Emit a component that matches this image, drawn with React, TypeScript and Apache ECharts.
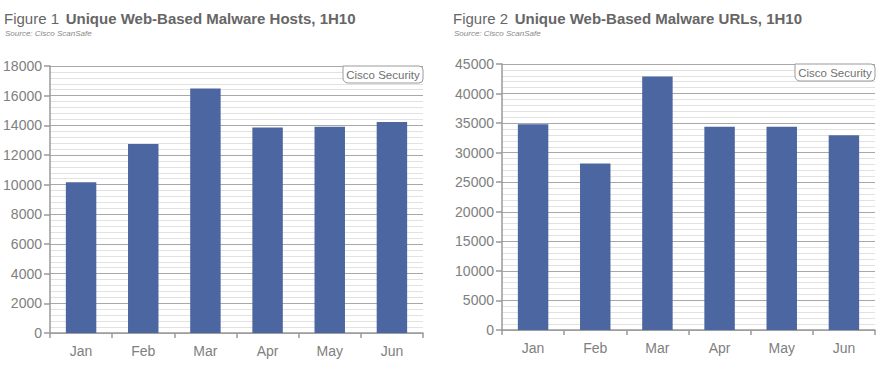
import React, { useEffect, useRef } from "react";
import * as echarts from "echarts";

const months = ["Jan", "Feb", "Mar", "Apr", "May", "Jun"];
const hostsValues = [10170, 12750, 16480, 13850, 13900, 14230];
const urlsValues = [34800, 28150, 42900, 34380, 34380, 32950];

const fig1Label = "Figure 1";
const fig1Title = "Unique Web-Based Malware Hosts, 1H10";
const fig2Label = "Figure 2";
const fig2Title = "Unique Web-Based Malware URLs, 1H10";
const sourceText = "Source: Cisco ScanSafe";
const badgeText = "Cisco Security";

const FONT = "'Liberation Sans', Arial, sans-serif";
const BAR = "#4c66a1";
const AXIS = "#9a9a9a";
const LABEL = "#808080";

export default function App() {
  const ref = useRef<HTMLDivElement>(null);
  useEffect(() => {
    document.body.style.margin = "0";
    const chart = echarts.init(ref.current!, null, { renderer: "svg" });

    const grids = [
      { left: 50, top: 66, width: 373, height: 267 },
      { left: 502, top: 64, width: 373, height: 266 },
    ];

    const mkX = (i: number) => ({
      type: "category",
      gridIndex: i,
      data: months,
      boundaryGap: true,
      axisLine: { show: true, lineStyle: { color: AXIS, width: 1.5 } },
      axisTick: { show: true, length: 5, lineStyle: { color: AXIS, width: 1.5 } },
      axisLabel: { color: LABEL, fontFamily: FONT, fontSize: 14, margin: 11 },
      splitLine: { show: false },
    });
    const mkY = (i: number, max: number, interval: number) => ({
      type: "value",
      gridIndex: i,
      min: 0,
      max,
      interval,
      axisLine: { show: true, lineStyle: { color: AXIS, width: 1.5 } },
      axisTick: { show: true, length: 6, lineStyle: { color: AXIS, width: 1.5 } },
      axisLabel: {
        color: LABEL,
        fontFamily: FONT,
        fontSize: 14,
        margin: 8,
        formatter: (v: number) => String(v),
      },
      splitLine: { show: true, lineStyle: { color: "#a8a8a8", width: 1.2 } },
      minorTick: { show: false, splitNumber: 5 },
      minorSplitLine: { show: true, lineStyle: { color: "#e2e2e2", width: 1 } },
    });

    const badge = (right: number, top: number) => ({
      type: "group",
      children: [
        {
          type: "rect",
          shape: { x: right - 80, y: top, width: 80, height: 17, r: [0, 4, 4, 5] },
          style: { fill: "#ffffff", stroke: "#9a9a9a", lineWidth: 1 },
          z: 100,
        },
        {
          type: "text",
          x: right - 40,
          y: top + 9,
          style: {
            text: badgeText,
            fill: "#707070",
            font: `11.5px ${FONT}`,
            align: "center",
            verticalAlign: "middle",
          },
          z: 101,
        },
      ],
    });

    const title = (x: number, label: string, t: string) => ({
      type: "group",
      children: [
        {
          type: "text",
          x,
          y: 18,
          style: {
            text: `{a|${label}}  {b|${t}}`,
            rich: {
              a: { fontFamily: FONT, fontSize: 15, fill: "#666666", color: "#666666" },
              b: {
                fontFamily: FONT,
                fontSize: 15,
                fontWeight: "bold",
                fill: "#666666",
                color: "#666666",
              },
            },
            fill: "#666666",
            verticalAlign: "middle",
          },
        },
        {
          type: "text",
          x: x + 1,
          y: 33,
          style: {
            text: sourceText,
            fill: "#888888",
            font: `italic 8px ${FONT}`,
            verticalAlign: "middle",
          },
        },
      ],
    });

    chart.setOption({
      animation: false,
      grid: grids,
      xAxis: [mkX(0), mkX(1)],
      yAxis: [mkY(0, 18000, 2000), mkY(1, 45000, 5000)],
      series: [
        {
          type: "bar",
          xAxisIndex: 0,
          yAxisIndex: 0,
          data: hostsValues,
          barWidth: "49%",
          itemStyle: { color: BAR },
        },
        {
          type: "bar",
          xAxisIndex: 1,
          yAxisIndex: 1,
          data: urlsValues,
          barWidth: "49%",
          itemStyle: { color: BAR },
        },
      ],
      graphic: [
        title(4, fig1Label, fig1Title),
        title(453, fig2Label, fig2Title),
        badge(423, 66),
        badge(875, 64),
      ],
    });
    return () => chart.dispose();
  }, []);
  return <div ref={ref} style={{ width: 894, height: 368 }} />;
}
